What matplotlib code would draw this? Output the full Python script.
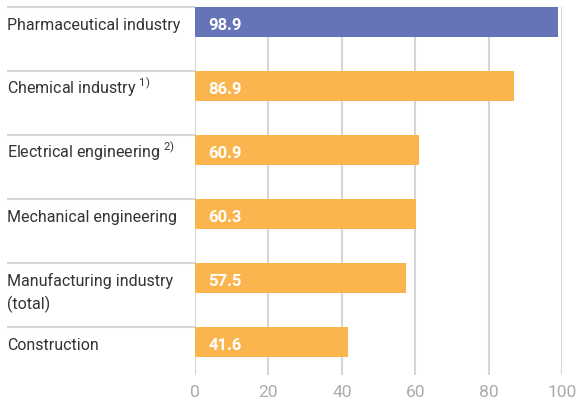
import matplotlib
matplotlib.use("Agg")
import matplotlib.pyplot as plt
from matplotlib import font_manager

# Productivity index by sector
categories = ["Pharmaceutical industry", "Chemical industry", "Electrical engineering",
              "Mechanical engineering", "Manufacturing industry\n(total)", "Construction"]
footnotes = ["", "1)", "2)", "", "", ""]
values = [98.9, 86.9, 60.9, 60.3, 57.5, 41.6]
ticks = [0, 20, 40, 60, 80, 100]

BLUE = "#6574b7"
ORANGE = "#fbb54e"
GRID = "#d6d6d6"
TEXT = "#333333"

# prefer a narrow face, otherwise shrink a regular one
names = {f.name for f in font_manager.fontManager.ttflist}
if "Liberation Sans Narrow" in names:
    FONT = "Liberation Sans Narrow"
    lab_size, val_size, tick_size = 13.5, 13.5, 13
else:
    FONT = "Roboto"
    lab_size, val_size, tick_size = 11.5, 12, 12.5

plt.rcParams["font.family"] = [FONT, "DejaVu Sans"]
plt.rcParams["mathtext.fontset"] = "custom"
plt.rcParams["mathtext.rm"] = FONT

fig = plt.figure(figsize=(5.78, 4.03), dpi=100)
W, H = 578, 403
ax = fig.add_axes([195 / W, (H - 375) / H, (562 - 195) / W, (375 - 7) / H])

rows = list(range(len(categories)))
colors = [BLUE] + [ORANGE] * (len(values) - 1)
ax.barh(rows, values, height=30 / 64, align="edge", color=colors, zorder=2)

ax.set_xlim(0, 100)
ax.set_ylim(5.75, 0)
ax.set_xticks(ticks)
ax.set_yticks([])
ax.grid(axis="x", color=GRID, linewidth=1.5, zorder=0)
for s in ax.spines.values():
    s.set_visible(False)
ax.tick_params(axis="x", length=0, pad=7, labelsize=tick_size, labelcolor="#ababab")

# label column to the left of the bars
left = (7 - 195) / (562 - 195)
tr = ax.get_yaxis_transform()
ax.hlines(rows, left, 0, transform=tr, color=GRID, linewidth=1.5, clip_on=False)

base = 0.36       # first baseline below the row top
line_step = 0.36  # distance between wrapped lines
for r, (cat, fn, v) in enumerate(zip(categories, footnotes, values)):
    lines = cat.split("\n")
    if fn:
        lines[-1] += r" $^{\mathrm{" + fn + "}}$"
    for k, line in enumerate(lines):
        ax.text(left, r + base + k * line_step, line, transform=tr, ha="left",
                va="baseline", fontsize=lab_size, color=TEXT)
    ax.annotate(f"{v:.1f}", (0, r + base), xytext=(9.5, 0), textcoords="offset points",
                ha="left", va="baseline", fontsize=val_size, fontweight="bold",
                color="white", zorder=3)

fig.savefig("out.png", dpi=100)
